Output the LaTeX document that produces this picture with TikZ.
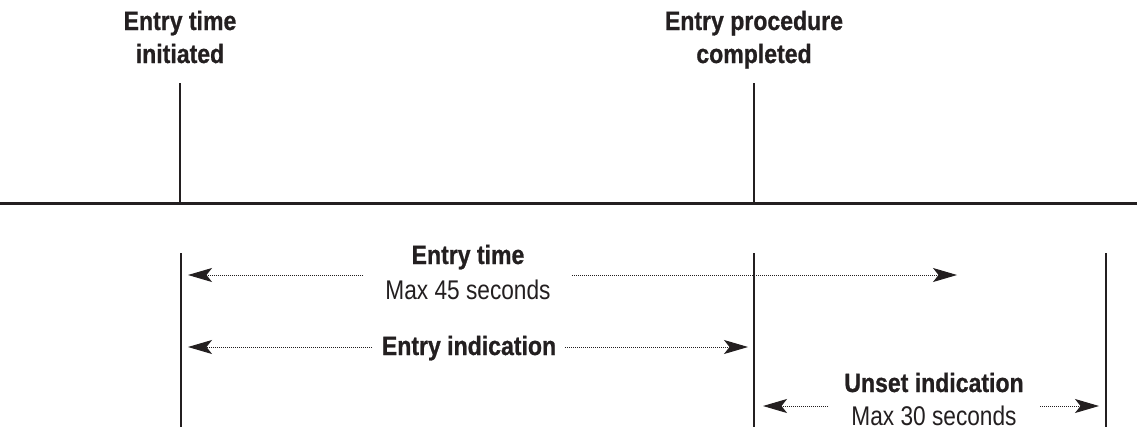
\documentclass[tikz,border=0pt]{standalone}
\usepackage{fontspec}
\setmainfont{Liberation Sans}
\newfontfamily\boldlab{Liberation Sans}[FakeStretch=0.87, BoldFeatures={FakeBold=0.8}]
\newfontfamily\reglab{Liberation Sans}[FakeStretch=0.84]
\usetikzlibrary{arrows.meta}
\definecolor{ink}{RGB}{35,31,32}
\tikzset{
  x=1pt, y=-1pt,
  boldtxt/.style={inner sep=0pt, anchor=base, text=ink, font=\boldlab\bfseries\fontsize{26.5}{30}\selectfont},
  regtxt/.style={inner sep=0pt, anchor=base, text=ink, font=\reglab\fontsize{27}{30}\selectfont},
  solidline/.style={draw=ink, line width=2.7pt},
  timeline/.style={draw=ink, line width=3pt},
  dimarrow/.style={draw=ink, line width=1pt, dash pattern=on 1.3pt off 0.7pt,
     -{Stealth[length=24pt, width=14pt, inset=5.5pt, fill=ink]}},
}
\begin{document}
\begin{tikzpicture}
\useasboundingbox[fill=white] (0,0) rectangle (1137,429);

% main timeline
\coordinate (tlL) at (0,203);
\coordinate (tlR) at (1137,203);
\draw[timeline] (tlL) -- (tlR);

% upper markers
\coordinate (aTop) at (180,83);
\coordinate (aBot) at (180,203);
\coordinate (bTop) at (754,83);
\coordinate (bBot) at (754,203);
\draw[solidline] (aTop) -- (aBot);
\draw[solidline] (bTop) -- (bBot);

\node[boldtxt] (ia1) at (180,30) {Entry time};
\node[boldtxt] (ia2) at (180,63) {initiated};
\node[boldtxt] (pc1) at (754,30) {Entry procedure};
\node[boldtxt] (pc2) at (754,63) {completed};

% lower markers
\coordinate (l1T) at (181,253);
\coordinate (l1B) at (181,427);
\coordinate (l2T) at (754,253);
\coordinate (l2B) at (754,427);
\coordinate (l3T) at (1106,253);
\coordinate (l3B) at (1106,427);
\draw[solidline] (l1T) -- (l1B);
\draw[solidline] (l2T) -- (l2B);
\draw[solidline] (l3T) -- (l3B);

% Entry time
\node[boldtxt] (et) at (468,264) {Entry time};
\node[regtxt] (et2) at (468,299) {Max 45 seconds};
\coordinate (etLs) at (363,275);
\coordinate (etLe) at (188,275);
\coordinate (etRs) at (572,275);
\coordinate (etRe) at (957,275);
\draw[dimarrow] (etLs) -- (etLe);
\draw[dimarrow] (etRs) -- (etRe);

% Entry indication
\node[boldtxt] (ei) at (469,355) {Entry indication};
\coordinate (eiLs) at (372,347);
\coordinate (eiLe) at (188,347);
\coordinate (eiRs) at (565,347);
\coordinate (eiRe) at (748,347);
\draw[dimarrow] (eiLs) -- (eiLe);
\draw[dimarrow] (eiRs) -- (eiRe);

% Unset indication
\node[boldtxt] (ui) at (934,392) {Unset indication};
\node[regtxt] (ui2) at (934,425) {Max 30 seconds};
\coordinate (uiLs) at (828,406);
\coordinate (uiLe) at (763,406);
\coordinate (uiRs) at (1040,406);
\coordinate (uiRe) at (1099,406);
\draw[dimarrow] (uiLs) -- (uiLe);
\draw[dimarrow] (uiRs) -- (uiRe);
\end{tikzpicture}
\end{document}
